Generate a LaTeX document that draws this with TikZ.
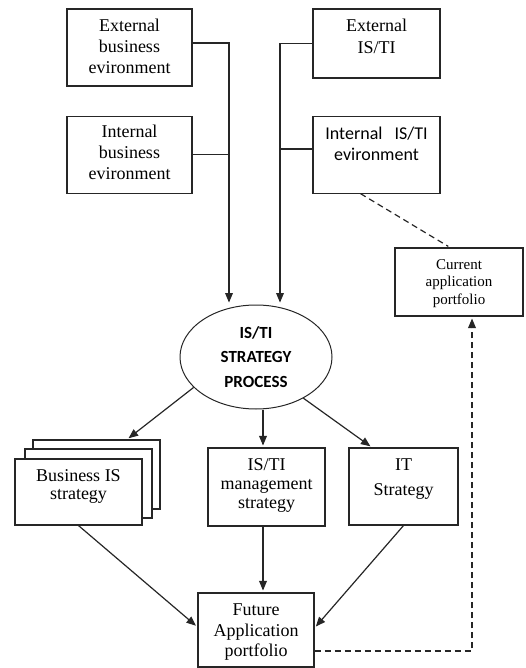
\documentclass[tikz,border=0pt]{standalone}
\usepackage{fontspec}
\setmainfont{Liberation Serif}
\newfontfamily\calibri{Carlito}
\usetikzlibrary{positioning}
\usetikzlibrary{shapes}
\usetikzlibrary{arrows}

\begin{document}
\begin{tikzpicture}[x=1pt,y=-1pt,->,>=triangle 45,shorten >=2pt,
  main box/.style={rectangle,draw=black!85,line width=1.1pt,fill=white,inner sep=0pt,
  minimum width=127pt,minimum height=77pt},box text/.style={anchor=north,align=center,
  inner sep=0pt,yshift=-10pt,font=\fontsize{18}{21}\selectfont},conn/.style={draw=black!85,
  line width=1.2pt},joint/.style={conn,-,shorten >=0pt},dash line/.style={conn,
  dash pattern=on 6pt off 4pt}]

\useasboundingbox (0,0) rectangle (525,668);

% The environment boxes
  \node[main box,minimum width=125pt,label={[box text]north:External\\business\\evironment}] (extbus) at (129.5,47.5) {};
  \node[main box,minimum width=125pt,label={[box text,yshift=1pt]north:Internal\\business\\evironment}] (intbus) [below=29pt of extbus] {};
  \node[main box,minimum height=69pt,label={[box text,font=\fontsize{18}{22}\selectfont]north:External\\IS/TI}] (extis) at (376.5,43.5) {};
  \node[main box,label={[box text,yshift=-1.5pt,font=\calibri\fontsize{18}{21}\selectfont]north:Internal\hspace{12pt}IS/TI\\evironment}] (intis) [below=37pt of extis] {};
  \node[main box,minimum width=128pt,minimum height=68pt,label={[box text,yshift=-1.5pt,font=\fontsize{15}{17.5}\selectfont]north:Current\\application\\portfolio}] (current) at (459,282) {};

% The strategy process
  \node[ellipse,draw=black!85,line width=1pt,minimum width=152pt,minimum height=104pt,inner sep=0pt,
  align=center,font=\calibri\bfseries\fontsize{17}{24.5}\selectfont] (strategy) at (256,357) {IS/TI\\STRATEGY\\PROCESS};

% The strategies
  \node[main box,minimum height=69pt] (bis3) at (96.5,474.5) {};
  \node[main box,minimum height=69pt] (bis2) at (88.5,483.5) {};
  \node[main box,minimum height=66pt,label={[box text,yshift=-1pt,font=\fontsize{18}{18}\selectfont]north:Business IS\\strategy}] (bis1) at (78.5,492) {};
  \node[main box,minimum width=117pt,minimum height=78pt,label={[box text,yshift=-1pt,font=\fontsize{18}{19}\selectfont]north:IS/TI\\management\\strategy}] (mgmt) at (266.5,487) {};
  \node[main box,minimum width=109pt,label={[box text,yshift=-1pt,font=\fontsize{18}{25}\selectfont]north:IT\\Strategy}] (it) at (403.5,486.5) {};
  \node[main box,minimum width=116pt,minimum height=74pt,label={[box text,yshift=-1.5pt,font=\fontsize{18}{20.5}\selectfont]north:Future\\Application\\portfolio}] (future) at (256,630) {};

% The arrows between the nodes
  \coordinate (jl) at (229,43);
  \coordinate (jr) at (280,43.5);
  \draw[conn] ([yshift=4.5pt]extbus.east) -- (jl) -- (jl |- strategy.north);
  \draw[joint] (intbus.east) -- (intbus.east -| jl);
  \draw[conn] (extis.west) -- (jr) -- (jr |- strategy.north);
  \draw[joint] ([yshift=5.5pt]intis.west) -- ([yshift=5.5pt]intis.west -| jr);
  \draw[dash line,-] ([xshift=-16pt]intis.south) -- ([xshift=-9pt]current.north);

  \coordinate (mid) at ([xshift=-3.5pt]mgmt.north);
  \draw[conn] (strategy.206) -- ([xshift=30.5pt]bis3.north);
  \draw[conn] (strategy.south -| mid) -- (mid);
  \draw[conn] (strategy.-41) -- ([xshift=-31.5pt]it.north);

  \draw[conn] (bis1.south) -- ([yshift=3pt]future.west);
  \draw[conn] ([xshift=-3.5pt]mgmt.south) -- ([xshift=-3.5pt]mgmt.south |- future.north);
  \draw[conn] (it.south) -- ([yshift=2pt]future.east);
  \draw[dash line] ([yshift=-21pt]future.east) -| ([xshift=13pt]current.south);

\end{tikzpicture}
\end{document}
